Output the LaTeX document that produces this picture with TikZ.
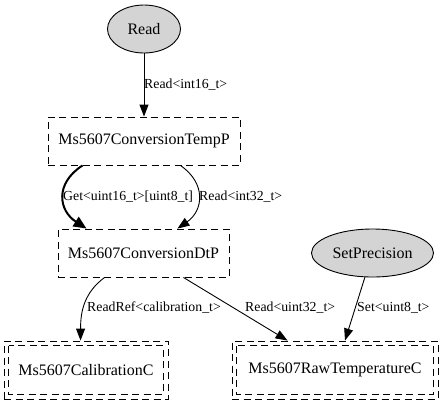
\documentclass[tikz,border=0pt]{standalone}
\usepackage{fontspec}
\setmainfont{Liberation Serif}
\usetikzlibrary{positioning,calc,arrows.meta,shapes.geometric}
\tikzset{
  wire/.style  = {line width=0.9pt, -{Triangle[length=12pt,width=9pt]}},
  bwire/.style = {line width=2pt, -{Triangle[length=13pt,width=11pt]}},
  dashln/.style = {draw, dash pattern=on 7pt off 4.5pt, line width=0.9pt},
  opn/.style   = {ellipse, draw, fill=black!17, inner sep=0pt, minimum height=48pt,
                  line width=0.9pt, font=\fontsize{16}{18}\selectfont},
  cbox/.style  = {dashln, minimum height=48pt, inner sep=0pt,
                  font=\fontsize{16}{18}\selectfont},
  ccbox/.style = {cbox, minimum height=58pt},
  lbl/.style   = {anchor=west, inner sep=0pt, font=\fontsize{13.8}{15}\selectfont},
}

\begin{document}
\begin{tikzpicture}[x=1pt,y=-1pt]
  \useasboundingbox (0,0) rectangle (443,405);
  \node[opn, minimum width=73pt] (rd) at (144,29) {Read};
  \node[cbox, minimum width=192pt] (tmp) at (144,141) {Ms5607ConversionTempP};
  \node[cbox, minimum width=171pt] (dtp) at (143.5,253) {Ms5607ConversionDtP};
  \node[opn, minimum width=122pt] (setp) at (372.5,253) {SetPrecision};
  \node[ccbox, minimum width=164pt] (cal) at (86,370) {Ms5607CalibrationC};
  \node[ccbox, minimum width=206pt] (raw) at (335,370) {Ms5607RawTemperatureC};
  % second periphery
  \draw[dashln] ($(cal.north west)+(5,5)$) rectangle ($(cal.south east)+(-5,-5)$);
  \draw[dashln] ($(raw.north west)+(5,5)$) rectangle ($(raw.south east)+(-5,-5)$);

  \draw[wire] (rd) -- (tmp);
  \node[lbl] (l1) at (144,85) {Read<int16\_t>};

  \draw[bwire] ($(tmp.south west)+(35,0)$)
    .. controls +(-28,18) and +(-28,-18) .. ($(dtp.north west)+(29,0)$);
  \node[lbl] (l2) at (63,197) {Get<uint16\_t>[uint8\_t]};
  \draw[wire] ($(tmp.south east)+(-60,0)$)
    .. controls +(26,18) and +(26,-18) .. ($(dtp.north east)+(-52,0)$);
  \node[lbl] (l3) at (199,197) {Read<int32\_t>};

  \draw[wire] ($(dtp.south west)+(47,0)$)
    .. controls +(-20,15) and +(0,-30) .. ($(cal.north west)+(77,0)$);
  \node[lbl] (l4) at (87,308) {ReadRef<calibration\_t>};
  \draw[wire] ($(dtp.south east)+(-46,0)$) -- ($(raw.north west)+(56,0)$);
  \node[lbl] (l5) at (245,308) {Read<uint32\_t>};
  \draw[wire] (setp) -- ($(raw.north)+(10,0)$);
  \node[lbl] (l6) at (357,308) {Set<uint8\_t>};
\end{tikzpicture}
\end{document}
